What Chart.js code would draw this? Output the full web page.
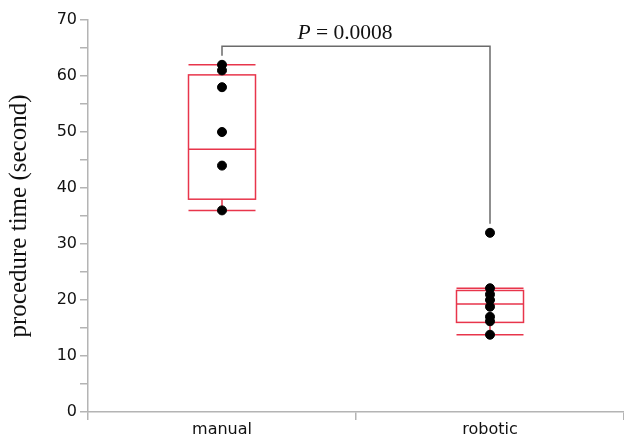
<!DOCTYPE html>
<html>
<head>
<meta charset="utf-8">
<script src="https://cdn.jsdelivr.net/npm/chart.js@4.4.0/dist/chart.umd.min.js"></script>
<style>
    html, body { margin: 0; padding: 0; background: #fff; }
    #wrap { width: 624px; height: 434px; position: relative; }
</style>
</head>
<body>
<div id="wrap"><canvas id="boxChart"></canvas></div>
<script>
// groups and raw points
const categories = ['manual', 'robotic'];
const manualTimes = [62, 61, 58, 50, 44, 36];
const roboticTimes = [32, 22.1, 21, 20, 18.8, 17, 16.2, 13.8];

// box summary per group (same order as categories)
const whiskerLow = [36, 13.8];
const boxQ1 = [38, 16];
const boxMedian = [46.9, 19.3];
const boxQ3 = [60.2, 21.7];
const whiskerHigh = [62, 22.1];

// y axis ticks
const yMin = 0;
const yMax = 70;
const yStep = 5;
const yLabelEvery = 10;

// significance bracket
const pText = 'P = 0.0008';
const bracketTop = 65.3;
const bracketEnds = [63.6, 33.6];

const boxRed = '#e8354b';
const axisGrey = '#b4b4b4';

const boxPlugin = {
    id: 'boxes',
    beforeDatasetsDraw(chart) {
        const ctx = chart.ctx;
        const x = chart.scales.x;
        const y = chart.scales.y;
        const half = x.width / categories.length / 8;

        ctx.save();
        ctx.strokeStyle = boxRed;
        ctx.lineWidth = 1.5;
        categories.forEach((cat, i) => {
            const cx = x.getPixelForValue(i);
            const yLo = y.getPixelForValue(whiskerLow[i]);
            const yQ1 = y.getPixelForValue(boxQ1[i]);
            const yMed = y.getPixelForValue(boxMedian[i]);
            const yQ3 = y.getPixelForValue(boxQ3[i]);
            const yHi = y.getPixelForValue(whiskerHigh[i]);

            ctx.strokeRect(cx - half, yQ3, half * 2, yQ1 - yQ3);

            ctx.beginPath();
            ctx.moveTo(cx - half, yMed);
            ctx.lineTo(cx + half, yMed);
            // whiskers
            ctx.moveTo(cx, yQ1);
            ctx.lineTo(cx, yLo);
            ctx.moveTo(cx, yQ3);
            ctx.lineTo(cx, yHi);
            // caps
            ctx.moveTo(cx - half, yLo);
            ctx.lineTo(cx + half, yLo);
            ctx.moveTo(cx - half, yHi);
            ctx.lineTo(cx + half, yHi);
            ctx.stroke();
        });
        ctx.restore();
    },
    afterDatasetsDraw(chart) {
        const ctx = chart.ctx;
        const x = chart.scales.x;
        const y = chart.scales.y;
        const x1 = x.getPixelForValue(0);
        const x2 = x.getPixelForValue(1);
        const top = y.getPixelForValue(bracketTop);

        ctx.save();
        ctx.strokeStyle = '#6b6b6b';
        ctx.lineWidth = 1.5;
        ctx.beginPath();
        ctx.moveTo(x1, y.getPixelForValue(bracketEnds[0]));
        ctx.lineTo(x1, top);
        ctx.lineTo(x2, top);
        ctx.lineTo(x2, y.getPixelForValue(bracketEnds[1]));
        ctx.stroke();

        // "P" italic, rest upright; label sits a little left of the bracket middle
        const parts = pText.split(' ');
        const restText = ' ' + parts.slice(1).join(' ');
        const size = 21.5;
        ctx.fillStyle = '#111';
        ctx.textBaseline = 'bottom';
        ctx.font = `italic ${size}px "Liberation Serif", serif`;
        const pW = ctx.measureText(parts[0]).width;
        ctx.font = `${size}px "Liberation Serif", serif`;
        const rW = ctx.measureText(restText).width;
        const startX = (x1 + x2) / 2 - 11 - (pW + rW) / 2;
        ctx.font = `italic ${size}px "Liberation Serif", serif`;
        ctx.fillText(parts[0], startX, top - 2);
        ctx.font = `${size}px "Liberation Serif", serif`;
        ctx.fillText(restText, startX + pW, top - 2);
        ctx.restore();
    }
};

const pointStyle = {
    backgroundColor: '#000',
    borderColor: '#000',
    pointRadius: 4.5,
    pointHoverRadius: 4.5
};

new Chart(document.getElementById('boxChart'), {
    type: 'scatter',
    data: {
        labels: categories,
        datasets: [
            { label: categories[0], data: manualTimes.map(v => ({ x: categories[0], y: v })), ...pointStyle },
            { label: categories[1], data: roboticTimes.map(v => ({ x: categories[1], y: v })), ...pointStyle }
        ]
    },
    options: {
        responsive: true,
        maintainAspectRatio: false,
        animation: false,
        layout: { autoPadding: false, padding: { top: 20, right: 0, left: 0, bottom: 0 } },
        plugins: {
            legend: { display: false },
            tooltip: { enabled: false }
        },
        scales: {
            x: {
                type: 'category',
                labels: categories,
                offset: true,
                grid: {
                    offset: true,
                    drawOnChartArea: false,
                    tickLength: 8,
                    tickColor: axisGrey,
                    lineWidth: 1.5
                },
                border: { color: axisGrey, width: 1.5 },
                ticks: {
                    color: '#111',
                    padding: 0,
                    font: { family: '"DejaVu Sans", Verdana, sans-serif', size: 16 }
                },
                afterFit(scale) { scale.height = 22; }
            },
            y: {
                min: yMin,
                max: yMax,
                grid: {
                    drawOnChartArea: false,
                    tickLength: 8,
                    tickColor: axisGrey,
                    lineWidth: 1.5
                },
                border: { color: axisGrey, width: 1.5 },
                ticks: {
                    stepSize: yStep,
                    color: '#111',
                    padding: 3,
                    font: { family: '"DejaVu Sans", Verdana, sans-serif', size: 16 },
                    callback: v => (v % yLabelEvery === 0 ? v : '')
                },
                title: {
                    display: true,
                    text: 'procedure time (second)',
                    color: '#111',
                    font: { family: '"Liberation Serif", "Times New Roman", serif', size: 25 },
                    padding: { top: 4, bottom: 2 }
                },
                afterFit(scale) { scale.width = 88; }
            }
        }
    },
    plugins: [boxPlugin]
});
</script>
</body>
</html>
